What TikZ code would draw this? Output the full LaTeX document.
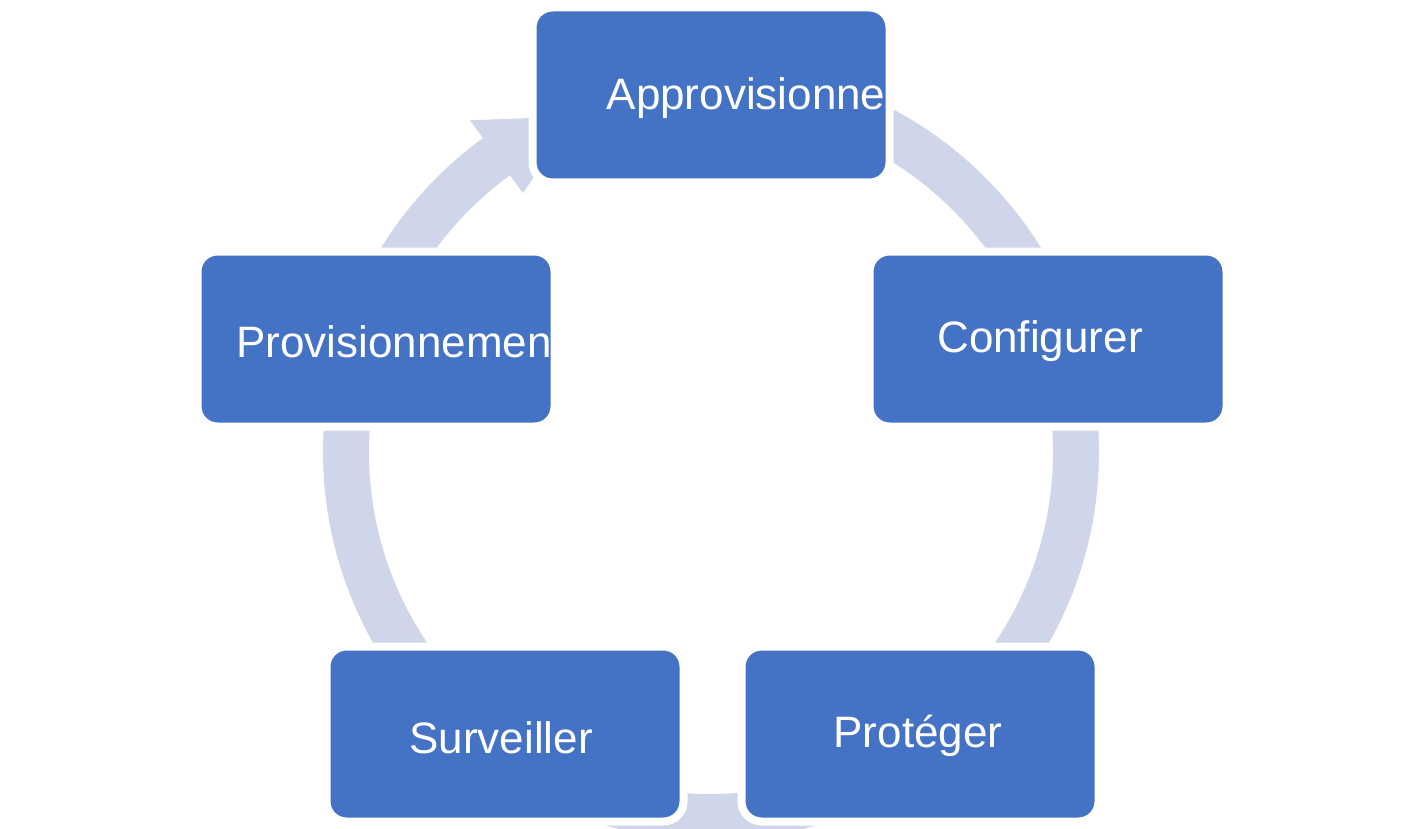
\documentclass[tikz,border=0pt]{standalone}
\usepackage{fontspec}
\setmainfont{Liberation Sans}
\definecolor{ring}{RGB}{208,214,234}
\definecolor{boxc}{RGB}{68,114,196}
\begin{document}
\begin{tikzpicture}[x=1pt,y=-1pt,
  stage/.style={draw=white,line width=8pt,fill=boxc,rounded corners=20pt,minimum width=357pt,minimum height=175pt},
  lbl/.style={text=white,font=\fontsize{44}{50}\selectfont}]
\useasboundingbox (0,0) rectangle (1424,829);
\coordinate (c) at (711,452);
\begin{scope}[y=1pt,shift={(711,-452)}]
\draw[ring,line width=46pt] (90:365) arc[start angle=90,end angle=-234,radius=365];
\fill[ring] (126:320) -- (126:410) -- (112:362) -- cycle;
\end{scope}
\node[stage] (a) at (711,95) {};
\node[stage] (b) at (1048,339) {};
\node[stage] (p) at (920,734) {};
\node[stage] (s) at (505,734) {};
\node[stage] (v) at (376,339) {};
\node[lbl] at (795,98) {Approvisionnement};
\node[lbl] at (1040,341) {Configurer};
\node[lbl] at (918,736) {Protéger};
\node[lbl] at (501,738) {Surveiller};
\node[lbl] at (437,342) {Provisionnement DE};
\end{tikzpicture}
\end{document}
